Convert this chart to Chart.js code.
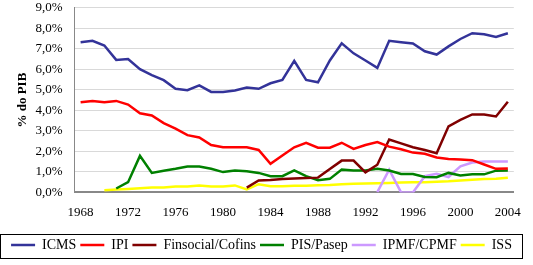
<!DOCTYPE html>
<html>
<head>
<meta charset="utf-8">
<script src="https://cdn.jsdelivr.net/npm/chart.js@4"></script>
<style>
  html, body { margin: 0; padding: 0; background: #fff; }
  #wrap { width: 533px; height: 265px; }
</style>
</head>
<body>
<div id="wrap"><canvas id="taxChart"></canvas></div>
<script>
// --- Data (% do PIB) ---
const years = [];
for (let y = 1968; y <= 2004; y++) years.push(String(y));

const icms = [7.32, 7.39, 7.16, 6.46, 6.50, 6.01, 5.72, 5.47, 5.05, 4.98,
              5.22, 4.90, 4.90, 4.97, 5.11, 5.05, 5.32, 5.48, 6.41, 5.48,
              5.37, 6.43, 7.27, 6.78, 6.43, 6.07, 7.39, 7.32, 7.26, 6.88,
              6.72, 7.12, 7.48, 7.76, 7.71, 7.58, 7.76];

const ipi = [4.39, 4.46, 4.39, 4.46, 4.28, 3.86, 3.75, 3.38, 3.11, 2.79,
             2.68, 2.31, 2.20, 2.20, 2.20, 2.07, 1.39, 1.80, 2.20, 2.42,
             2.18, 2.18, 2.42, 2.12, 2.31, 2.45, 2.23, 2.10, 1.94, 1.88,
             1.70, 1.63, 1.60, 1.57, 1.36, 1.15, 1.17];

const finsocial = [null, null, null, null, null, null, null, null, null, null,
                   null, null, null, null, 0.23, 0.58, 0.60, 0.65, 0.68, 0.70,
                   0.72, 1.14, 1.55, 1.55, 0.98, 1.35, 2.58, 2.39, 2.20, 2.07,
                   1.91, 3.22, 3.54, 3.80, 3.80, 3.70, 4.42];

const pis = [null, null, null, 0.19, 0.50, 1.78, 0.95, 1.06, 1.15, 1.26,
             1.26, 1.15, 0.99, 1.07, 1.03, 0.95, 0.79, 0.79, 1.07, 0.79,
             0.59, 0.66, 1.11, 1.07, 1.07, 1.15, 1.07, 0.90, 0.90, 0.75,
             0.74, 0.95, 0.83, 0.88, 0.88, 1.06, 1.07];

const cpmf = [null, null, null, null, null, null, null, null, null, null,
              null, null, null, null, null, null, null, null, null, null,
              null, null, null, null, null, 0.01, 1.11, 0.00, 0.00, 0.79,
              0.91, 0.75, 1.27, 1.46, 1.51, 1.51, 1.51];

const iss = [null, null, 0.11, 0.14, 0.17, 0.20, 0.24, 0.24, 0.29, 0.29,
             0.34, 0.29, 0.29, 0.34, 0.14, 0.40, 0.30, 0.30, 0.32, 0.33,
             0.35, 0.36, 0.40, 0.42, 0.43, 0.45, 0.46, 0.48, 0.50, 0.50,
             0.52, 0.54, 0.58, 0.62, 0.65, 0.67, 0.72];

const seriesNames = ['ICMS', 'IPI', 'Finsocial/Cofins', 'PIS/Pasep', 'IPMF/CPMF', 'ISS'];
const seriesColors = ['#333399', '#ff0000', '#800000', '#008000', '#cc99ff', '#ffff00'];
const seriesValues = [icms, ipi, finsocial, pis, cpmf, iss];

const yTickMax = 9;
const yTickStep = 1;

const serif = '"Liberation Serif", "Times New Roman", serif';

// box round the legend, as in the spreadsheet original
const legendFrame = {
    id: 'legendFrame',
    afterDraw(chart) {
        const lg = chart.legend;
        if (!lg) return;
        const ctx = chart.ctx;
        ctx.save();
        ctx.strokeStyle = '#000';
        ctx.lineWidth = 1;
        ctx.strokeRect(lg.left + 0.5, lg.top + 0.5, lg.width - 1, lg.height - 4);
        ctx.restore();
    }
};

new Chart(document.getElementById('taxChart'), {
    type: 'line',
    data: {
        labels: years,
        datasets: seriesNames.map((name, i) => ({
            label: name,
            data: seriesValues[i],
            borderColor: seriesColors[i],
            backgroundColor: seriesColors[i],
            borderWidth: 2.5,
            pointRadius: 0,
            tension: 0,
            fill: false
        }))
    },
    options: {
        responsive: true,
        maintainAspectRatio: false,
        animation: false,
        layout: { padding: { left: 0, right: 10, top: 0, bottom: 3 } },
        scales: {
            x: {
                offset: true,
                grid: { display: false, drawTicks: false },
                border: { color: '#888', width: 2 },
                ticks: {
                    autoSkip: false,
                    maxRotation: 0,
                    padding: 12,
                    color: '#000',
                    font: { family: serif, size: 13 },
                    callback: function (val, idx) {
                        const lab = this.getLabelForValue(val);
                        return (Number(lab) - 1968) % 4 === 0 ? lab : null;
                    }
                },
                afterFit(scale) { scale.height += 2; }
            },
            y: {
                min: 0,
                max: yTickMax,
                grid: {
                    color: '#d9d9d9',
                    lineWidth: 1,
                    drawTicks: true,
                    tickLength: 12,
                    tickColor: 'rgba(0,0,0,0)'
                },
                border: { color: '#888', width: 1 },
                ticks: {
                    stepSize: yTickStep,
                    autoSkip: false,
                    padding: 0,
                    color: '#000',
                    font: { family: serif, size: 13 },
                    callback: v => v.toFixed(1).replace('.', ',') + '%'
                },
                title: {
                    display: true,
                    text: '% do PIB',
                    color: '#000',
                    font: { family: serif, size: 13, weight: 'bold' },
                    padding: { top: 15, bottom: 5 }
                }
            }
        },
        plugins: {
            legend: {
                position: 'bottom',
                labels: {
                    usePointStyle: true,
                    pointStyle: 'line',
                    pointStyleWidth: 24,
                    padding: 4,
                    color: '#000',
                    font: { family: serif, size: 14 }
                }
            },
            tooltip: { enabled: false }
        }
    },
    plugins: [legendFrame]
});
</script>
</body>
</html>
